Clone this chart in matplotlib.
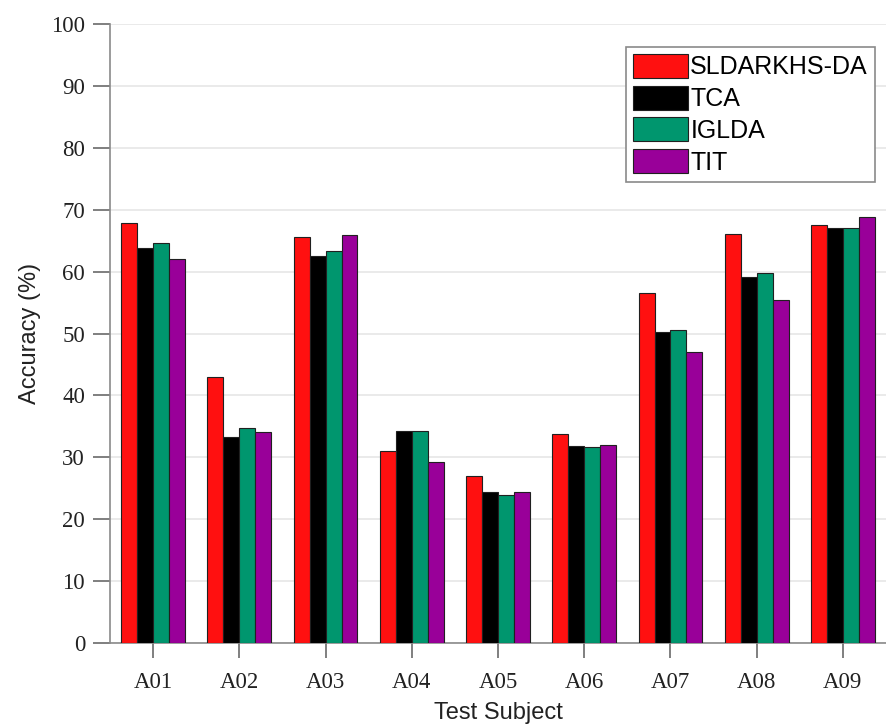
import numpy as np
import matplotlib
matplotlib.use('Agg')
import matplotlib.pyplot as plt

subjects = ['A01', 'A02', 'A03', 'A04', 'A05', 'A06', 'A07', 'A08', 'A09']
methods = ['SLDARKHS-DA', 'TCA', 'IGLDA', 'TIT']
colors = ['#ff1010', '#000000', '#00966e', '#990099']

sldarkhs = [67.9, 43.0, 65.6, 31.0, 27.0, 33.7, 56.6, 66.1, 67.5]
tca = [63.8, 33.3, 62.5, 34.3, 24.4, 31.9, 50.2, 59.1, 67.0]
iglda = [64.7, 34.7, 63.3, 34.3, 23.9, 31.7, 50.5, 59.8, 67.1]
tit = [62.1, 34.1, 65.9, 29.2, 24.4, 32.0, 47.0, 55.4, 68.8]
series = [sldarkhs, tca, iglda, tit]

fig = plt.figure(figsize=(8.86, 7.25), dpi=100)
ax = fig.add_axes([0.1242, 0.1131, 0.8758, 0.8538])

x = np.arange(1, len(subjects) + 1)
w = 0.185
for i, (vals, name, c) in enumerate(zip(series, methods, colors)):
    ax.bar(x + (i - 1.5) * w, vals, width=w, color=c, edgecolor='#202020',
           linewidth=0.8, label=name, zorder=3)

ax.set_xlim(0.5, 9.5)
ax.set_ylim(0, 100)
ax.set_yticks(np.arange(0, 101, 10))
ax.set_xticks(x)
ax.set_xticklabels(subjects)
ax.yaxis.grid(True, color='#e6e6e6', linewidth=1.2, zorder=0)
ax.set_axisbelow(True)

for s in ['top', 'right']:
    ax.spines[s].set_visible(False)
for s in ['left', 'bottom']:
    ax.spines[s].set_color('#8a8a8a')
    ax.spines[s].set_linewidth(1.2)

ax.tick_params(axis='y', length=12, width=1.2, color='#6a6a6a', pad=6,
               labelsize=16.5, labelcolor='#222222')
ax.tick_params(axis='x', length=11, width=1.2, color='#6a6a6a', pad=10,
               labelsize=16.5, labelcolor='#222222')
for lab in ax.get_xticklabels() + ax.get_yticklabels():
    lab.set_fontfamily('Liberation Serif')

ax.set_ylabel('Accuracy (%)', fontsize=17, family='Liberation Sans',
              color='#222222', labelpad=7)
ax.set_xlabel('Test Subject', fontsize=17, family='Liberation Sans',
              color='#222222', labelpad=6)

leg = ax.legend(loc='upper right', bbox_to_anchor=(0.9857, 0.963),
                prop={'family': 'Liberation Sans', 'size': 18},
                fancybox=False, framealpha=1, edgecolor='#8a8a8a',
                handlelength=2.2, handleheight=1.1, handletextpad=0.1,
                labelspacing=0.25, borderpad=0.28, borderaxespad=0)
leg.get_frame().set_linewidth(1.2)

fig.savefig('out.png', dpi=100)
